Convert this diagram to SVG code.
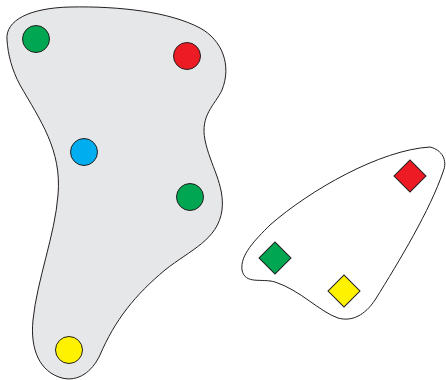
<svg xmlns="http://www.w3.org/2000/svg" width="446" height="380" viewBox="0 0 446 380">
<style>
.blob{stroke:#231f20;stroke-width:1}
.n{stroke:#231f20;stroke-width:1}
.g{fill:#00a651}.r{fill:#ed1c24}.b{fill:#00aeef}.y{fill:#fff200}
</style>
<rect width="446" height="380" fill="#fff"/>
<g id="connectors"></g>
<g id="group-left">
<path class="blob" fill="#e6e7e8" d="M 7,40 C 5,20 30,8 70,7 C 120,6 170,12 200,28 C 222,40 232,65 222,90 C 215,105 200,115 205,140 C 210,165 225,185 222,210 C 218,240 190,250 165,270 C 135,295 115,320 100,355 C 92,372 78,382 62,378 C 40,372 30,350 33,320 C 37,280 55,235 58,195 C 62,150 40,120 20,85 C 12,70 8,55 7,40 Z"/>
</g>
<g id="group-right">
<path class="blob" fill="#fff" d="M 430,147 C 442,150 448,160 443,172 C 430,210 400,260 375,300 C 365,315 352,322 338,318 C 320,312 300,290 275,282 C 262,278 245,285 242,270 C 240,255 255,240 270,225 C 310,190 380,150 430,147 Z"/>
</g>
<g id="c1"><circle class="n g" cx="36" cy="39" r="13.5"/></g>
<g id="c2"><circle class="n r" cx="187" cy="56" r="13.5"/></g>
<g id="c3"><circle class="n b" cx="84" cy="152" r="13.5"/></g>
<g id="c4"><circle class="n g" cx="190" cy="197" r="13.5"/></g>
<g id="c5"><circle class="n y" cx="69" cy="350" r="13.5"/></g>
<g id="d1"><rect class="n r" x="-11.3" y="-11.3" width="22.6" height="22.6" transform="translate(410,176) rotate(45)"/></g>
<g id="d2"><rect class="n g" x="-11.3" y="-11.3" width="22.6" height="22.6" transform="translate(275,258) rotate(45)"/></g>
<g id="d3"><rect class="n y" x="-11.3" y="-11.3" width="22.6" height="22.6" transform="translate(344,291) rotate(45)"/></g>
</svg>
